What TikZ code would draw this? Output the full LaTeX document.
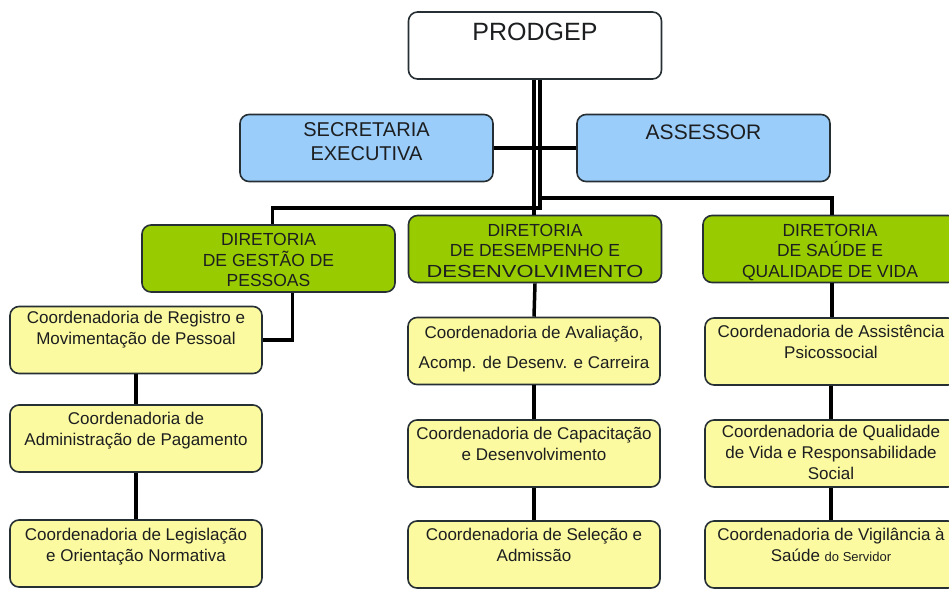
\documentclass[tikz,border=0pt]{standalone}
\usepackage{graphicx}
\usepackage{fontspec}
\setmainfont{Liberation Sans}
\definecolor{boxborder}{RGB}{38,48,52}
\definecolor{bluefill}{RGB}{155,205,250}
\definecolor{greenfill}{RGB}{153,204,0}
\definecolor{yellowfill}{RGB}{252,250,160}
\definecolor{txtdark}{RGB}{28,30,32}
\newcommand{\orgtext}[2][7pt]{\parbox[c][67pt][t]{250pt}{\centering\vspace*{#1}#2\par}}
\tikzset{orgbox/.style={draw=boxborder,line width=1.6pt,rounded corners=9pt,
                        minimum width=253pt,minimum height=67pt,inner sep=0pt,text=txtdark},
         topbox/.style={orgbox,fill=white,font=\fontsize{25}{29}\selectfont},
         bluebox/.style={orgbox,fill=bluefill,font=\fontsize{20}{24}\selectfont},
         greenbox/.style={orgbox,fill=greenfill,font=\fontsize{17.5}{20.5}\selectfont},
         yellowbox/.style={orgbox,fill=yellowfill,minimum width=252pt,font=\fontsize{17}{21}\selectfont},
         orgline/.style={line width=3.5pt,black}}

\begin{document}
\begin{tikzpicture}[x=1pt,y=-1pt]
\useasboundingbox (0,0) rectangle (949,589);
\clip (0,0) rectangle (949,589);

\node[topbox] (prodgep) at (535,45.5) {\orgtext[11pt]{PRODGEP}};
\node[bluebox] (secretaria) at (366.5,148) {\orgtext[8pt]{SECRETARIA\\EXECUTIVA}};
\node[bluebox,font=\fontsize{21}{25}\selectfont] (assessor) at (703.5,148) {\orgtext[10.5pt]{ASSESSOR}};

\node[greenbox] (gestao) at (268.5,258.5) {\orgtext[8.5pt]{DIRETORIA\\DE GESTÃO DE\\PESSOAS}};
\node[greenbox] (desempenho) at (535,249) {\orgtext[8.5pt]{DIRETORIA\\DE DESEMPENHO E\\\scalebox{1.25}[1]{DESENVOLVIMENTO}}};
\node[greenbox,minimum width=254pt] (saude) at (830,249) {\orgtext[8.5pt]{DIRETORIA\\DE SAÚDE E\\QUALIDADE DE VIDA}};

\node[yellowbox] (registro) at (136,340) {\orgtext[4.5pt]{Coordenadoria de Registro e\\Movimentação de Pessoal}};
\node[yellowbox] (administracao) at (136,438.5) {\orgtext{Coordenadoria de\\Administração de Pagamento}};
\node[yellowbox] (legislacao) at (136,553.5) {\orgtext[8.5pt]{Coordenadoria de Legislação\\e Orientação Normativa}};

\node[yellowbox] (avaliacao) at (534,351) {\orgtext[8.5pt]{Coordenadoria de Avaliação,\\[9pt]Acomp. de Desenv. e Carreira}};
\node[yellowbox] (capacitacao) at (534,453.5) {\orgtext{Coordenadoria de Capacitação\\e Desenvolvimento}};
\node[yellowbox] (selecao) at (534,554.5) {\orgtext{Coordenadoria de Seleção e\\Admissão}};

\node[yellowbox] (assistencia) at (831,351.5) {\orgtext{Coordenadoria de Assistência\\Psicossocial}};
\node[yellowbox] (qualidadevida) at (831,453.5) {\orgtext[5.5pt]{Coordenadoria de Qualidade\\de Vida e Responsabilidade\\Social}};
\node[yellowbox] (vigilancia) at (831,554.5) {\orgtext{Coordenadoria de Vigilância à\\Saúde {\fontsize{13}{21}\selectfont do Servidor}}};

% double line under PRODGEP
\draw[orgline] ([xshift=-1pt]prodgep.south) -- ([xshift=-1pt]desempenho.north);
\draw[orgline] ([xshift=5pt]prodgep.south) -- ++(0,128) coordinate (leftbus)
      -| ([xshift=4pt]gestao.north);
\draw[orgline] ([xshift=5pt]prodgep.south) ++(0,118) coordinate (rightbus)
      -| ([xshift=2pt]saude.north);
%\draw[orgline] (prodgep.south) |- (secretaria.east);
\draw[orgline] (secretaria.east) -- (assessor.west);

\draw[orgline] ([xshift=24pt]gestao.south) |- (registro.east);
\draw[orgline] (registro.south) -- (administracao.north);
\draw[orgline] (administracao.south) -- (legislacao.north);

\draw[orgline] (desempenho.south) -- (avaliacao.north);
\draw[orgline] (avaliacao.south) -- (capacitacao.north);
\draw[orgline] (capacitacao.south) -- (selecao.north);

\draw[orgline] ([xshift=2pt]saude.south) -- ([xshift=1pt]assistencia.north);
\draw[orgline] (assistencia.south) -- (qualidadevida.north);
\draw[orgline] (qualidadevida.south) -- (vigilancia.north);
\end{tikzpicture}
\end{document}
